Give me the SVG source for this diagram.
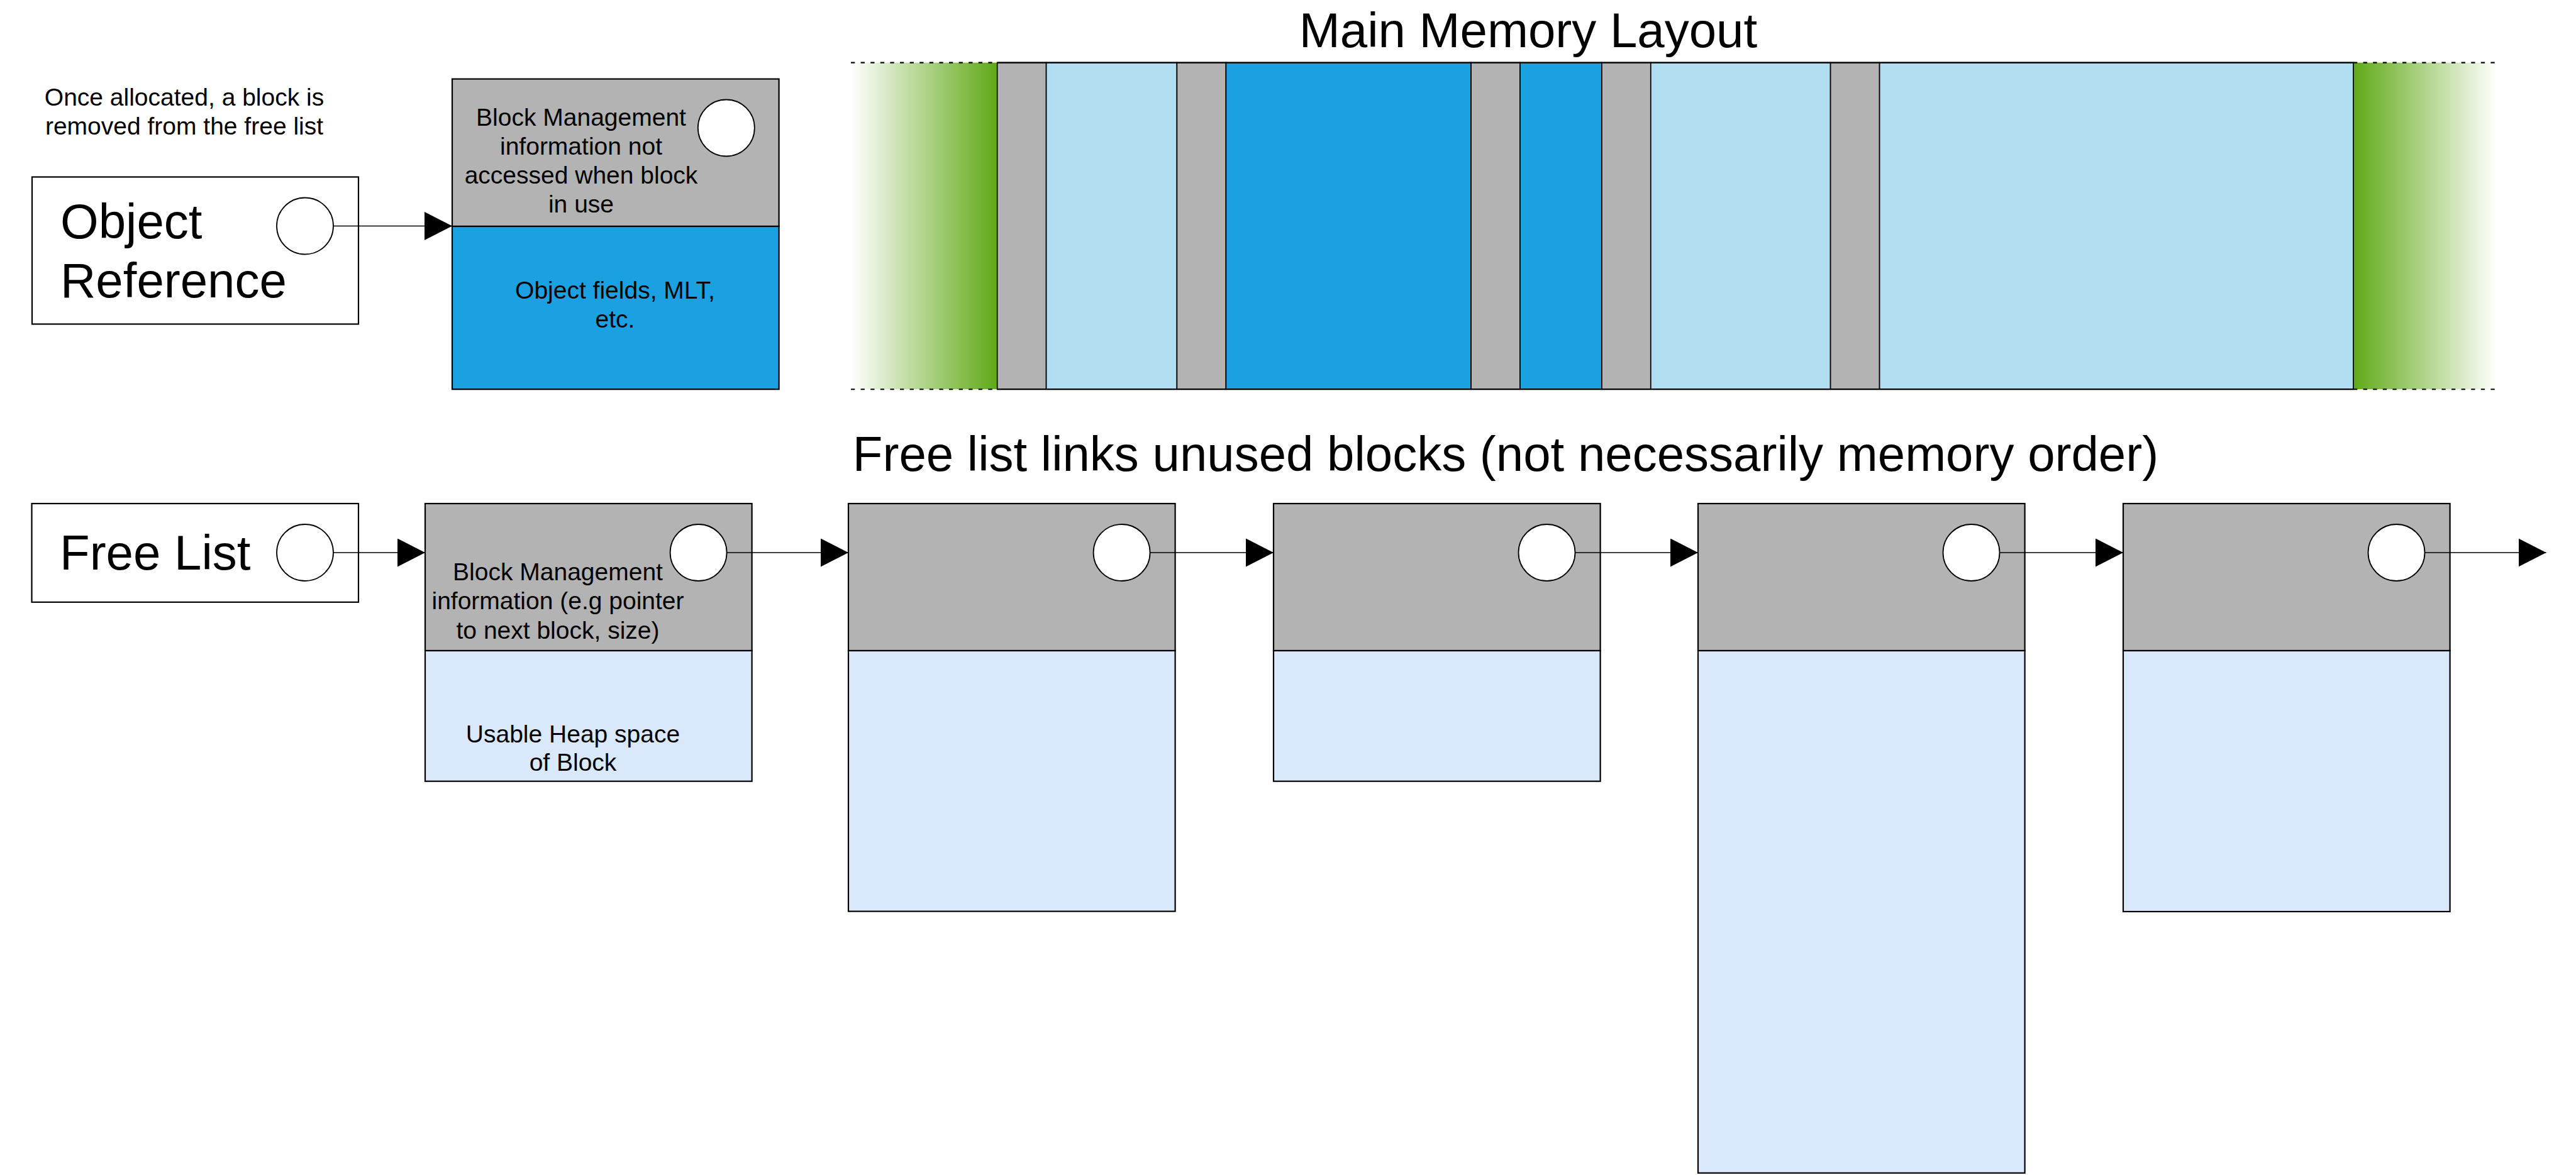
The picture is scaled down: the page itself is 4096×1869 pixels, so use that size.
<svg xmlns="http://www.w3.org/2000/svg" width="4096" height="1869" viewBox="0 0 4096 1869">
<style>
.t{font-family:"Liberation Sans",Arial,sans-serif;fill:#000}
.s{font-size:39px;text-anchor:middle}
.big{font-size:78px}
.box{fill:#fff;stroke:#000;stroke-width:2.2}
.hdr{fill:#b3b3b3;stroke:#000;stroke-width:2.2}
.heap{fill:#dae8fc;stroke:#000;stroke-width:2.2}
.used{fill:#1ba1e2;stroke:#000;stroke-width:2.2}
.ptr{fill:#fff;stroke:#000;stroke-width:1.8}
.col{stroke:#000;stroke-width:1.7}
.g{fill:#b3b3b3}.lb{fill:#b1ddf0}.bl{fill:#1ba1e2}
.edge{fill:none;stroke:#000;stroke-width:1.6}
.dot{fill:none;stroke:#000;stroke-width:2.1;stroke-dasharray:6.3 9.3}
</style>
<defs>
<marker id="ah" markerUnits="userSpaceOnUse" markerWidth="46" markerHeight="46" refX="44" refY="22.5" orient="auto" viewBox="0 0 46 46">
<path d="M0,0 L44,22.5 L0,45 Z" fill="#000"/>
</marker>
<linearGradient id="gl" x1="0" y1="0" x2="1" y2="0">
<stop offset="0" stop-color="#ffffff"/>
<stop offset="1" stop-color="#60a917"/>
</linearGradient>
<linearGradient id="gr" x1="0" y1="0" x2="1" y2="0">
<stop offset="0" stop-color="#60a917"/>
<stop offset="1" stop-color="#ffffff"/>
</linearGradient>
</defs>
<rect width="4096" height="1869" fill="#fff"/>

<g id="note">
<text class="t s" x="293" y="168">Once allocated, a block is</text>
<text class="t s" x="293" y="214">removed from the free list</text>
</g>

<g id="object-reference">
<rect class="box" x="51" y="281.5" width="519" height="234"/>
<text class="t big" x="96" y="379">Object</text>
<text class="t big" x="96" y="472.5">Reference</text>
<ellipse class="ptr" cx="485" cy="359.5" rx="45" ry="45"/>
</g>

<g id="allocated-block">
<rect class="hdr" x="719" y="125.6" width="519.6" height="234.4"/>
<rect class="used" x="719" y="360" width="519.6" height="259.2"/>
<text class="t s" x="924" y="199.7">Block Management</text>
<text class="t s" x="924" y="245.7">information not</text>
<text class="t s" x="924" y="291.7">accessed when block</text>
<text class="t s" x="924" y="337.7">in use</text>
<ellipse class="ptr" cx="1154.8" cy="203.5" rx="45" ry="45"/>
<text class="t s" x="978" y="475">Object fields, MLT,</text>
<text class="t s" x="978" y="521">etc.</text>
</g>

<g id="memory-layout">
<text class="t big" x="2430" y="75" text-anchor="middle">Main Memory Layout</text>
<rect x="1353" y="99.6" width="232.7" height="519.6" fill="url(#gl)"/>
<rect x="3742" y="99.6" width="227.7" height="519.6" fill="url(#gr)"/>
<rect class="col g" x="1585.7" y="99.6" width="77.9" height="519.6"/>
<rect class="col lb" x="1663.6" y="99.6" width="207.8" height="519.6"/>
<rect class="col g" x="1871.4" y="99.6" width="78" height="519.6"/>
<rect class="col bl" x="1949.4" y="99.6" width="389.7" height="519.6"/>
<rect class="col g" x="2339.1" y="99.6" width="77.9" height="519.6"/>
<rect class="col bl" x="2417" y="99.6" width="129.9" height="519.6"/>
<rect class="col g" x="2546.9" y="99.6" width="77.9" height="519.6"/>
<rect class="col lb" x="2624.8" y="99.6" width="285.8" height="519.6"/>
<rect class="col g" x="2910.6" y="99.6" width="78" height="519.6"/>
<rect class="col lb" x="2988.6" y="99.6" width="753.4" height="519.6"/>
<line x1="1585.7" y1="99.6" x2="3742" y2="99.6" stroke="#000" stroke-width="2.3"/>
<line x1="1585.7" y1="619.2" x2="3742" y2="619.2" stroke="#000" stroke-width="2.3"/>
<line class="dot" x1="1353" y1="99.6" x2="1585.7" y2="99.6"/>
<line class="dot" x1="1353" y1="619.2" x2="1585.7" y2="619.2"/>
<line class="dot" x1="3742" y1="99.6" x2="3969.7" y2="99.6"/>
<line class="dot" x1="3742" y1="619.2" x2="3969.7" y2="619.2"/>
</g>

<text class="t big" x="2394" y="749" text-anchor="middle">Free list links unused blocks (not necessarily memory order)</text>

<g id="free-list">
<rect class="box" x="50.5" y="801" width="519.5" height="156.8"/>
<text class="t big" x="95" y="906">Free List</text>
<ellipse class="ptr" cx="485" cy="879" rx="45" ry="45"/>
</g>

<g id="free-block-1">
<rect class="hdr" x="676" y="801" width="519.6" height="234"/>
<rect class="heap" x="676" y="1035" width="519.6" height="207.7"/>
<text class="t s" x="887" y="923">Block Management</text>
<text class="t s" x="887" y="969">information (e.g pointer</text>
<text class="t s" x="887" y="1015.5">to next block, size)</text>
<text class="t s" x="911" y="1181">Usable Heap space</text>
<text class="t s" x="911" y="1226">of Block</text>
<ellipse class="ptr" cx="1110.6" cy="879" rx="45" ry="45"/>
</g>

<g id="free-block-2">
<rect class="hdr" x="1349" y="801" width="519.6" height="234"/>
<rect class="heap" x="1349" y="1035" width="519.6" height="414.6"/>
<ellipse class="ptr" cx="1783.6" cy="879" rx="45" ry="45"/>
</g>

<g id="free-block-3">
<rect class="hdr" x="2025" y="801" width="519.6" height="234"/>
<rect class="heap" x="2025" y="1035" width="519.6" height="207.7"/>
<ellipse class="ptr" cx="2459.5" cy="879" rx="45" ry="45"/>
</g>

<g id="free-block-4">
<rect class="hdr" x="2700" y="801" width="519.6" height="234"/>
<rect class="heap" x="2700" y="1035" width="519.6" height="830.8"/>
<ellipse class="ptr" cx="3134.5" cy="879" rx="45" ry="45"/>
</g>

<g id="free-block-5">
<rect class="hdr" x="3376" y="801" width="519.6" height="234"/>
<rect class="heap" x="3376" y="1035" width="519.6" height="415"/>
<ellipse class="ptr" cx="3810.5" cy="879" rx="45" ry="45"/>
</g>

<g id="connectors">
<line class="edge" x1="530" y1="359.5" x2="719" y2="359.5" marker-end="url(#ah)"/>
<line class="edge" x1="530" y1="879" x2="676" y2="879" marker-end="url(#ah)"/>
<line class="edge" x1="1155.6" y1="879" x2="1349" y2="879" marker-end="url(#ah)"/>
<line class="edge" x1="1828.6" y1="879" x2="2025" y2="879" marker-end="url(#ah)"/>
<line class="edge" x1="2504.5" y1="879" x2="2700" y2="879" marker-end="url(#ah)"/>
<line class="edge" x1="3179.5" y1="879" x2="3376" y2="879" marker-end="url(#ah)"/>
<line class="edge" x1="3855.5" y1="879" x2="4048.6" y2="879" marker-end="url(#ah)"/>
</g>
</svg>
